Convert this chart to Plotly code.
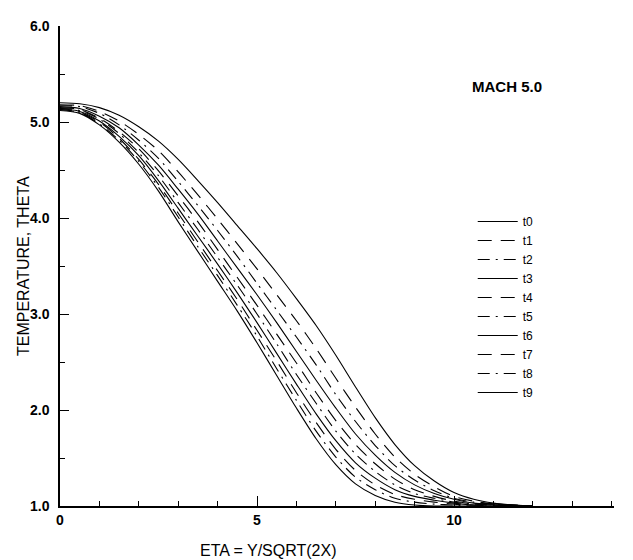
import plotly.graph_objects as go

eta = [0, 0.5, 1, 1.5, 2, 2.5, 3, 3.5, 4, 4.5, 5, 5.5, 6, 6.5, 7, 7.5,
       8, 8.5, 9, 9.5, 10, 10.5, 11, 11.5, 12]

t0 = [5.20, 5.19, 5.15, 5.07, 4.95, 4.80, 4.61, 4.39, 4.16, 3.92, 3.68, 3.43,
      3.16, 2.88, 2.57, 2.24, 1.92, 1.64, 1.42, 1.26, 1.14, 1.07, 1.03, 1.01, 1.00]
t1 = [5.18, 5.17, 5.11, 5.01, 4.87, 4.70, 4.48, 4.24, 3.99, 3.73, 3.47, 3.20,
      2.93, 2.64, 2.33, 2.03, 1.75, 1.51, 1.33, 1.20, 1.10, 1.05, 1.02, 1.01, 1.00]
t2 = [5.17, 5.16, 5.09, 4.97, 4.81, 4.62, 4.38, 4.13, 3.87, 3.60, 3.32, 3.04,
      2.76, 2.47, 2.16, 1.88, 1.63, 1.42, 1.27, 1.16, 1.08, 1.04, 1.02, 1.01, 1.00]
t3 = [5.16, 5.14, 5.06, 4.94, 4.76, 4.55, 4.30, 4.04, 3.76, 3.48, 3.20, 2.91,
      2.61, 2.31, 2.02, 1.75, 1.53, 1.35, 1.22, 1.13, 1.07, 1.03, 1.02, 1.01, 1.00]
t4 = [5.15, 5.13, 5.04, 4.90, 4.72, 4.49, 4.23, 3.96, 3.67, 3.38, 3.09, 2.79,
      2.49, 2.18, 1.89, 1.64, 1.44, 1.28, 1.17, 1.10, 1.05, 1.02, 1.01, 1.00, 1.00]
t5 = [5.14, 5.12, 5.03, 4.88, 4.68, 4.44, 4.16, 3.88, 3.59, 3.30, 3.00, 2.69,
      2.37, 2.07, 1.78, 1.54, 1.36, 1.22, 1.13, 1.08, 1.04, 1.02, 1.01, 1.00, 1.00]
t6 = [5.14, 5.11, 5.01, 4.85, 4.65, 4.39, 4.10, 3.81, 3.52, 3.22, 2.91, 2.59,
      2.27, 1.96, 1.68, 1.45, 1.29, 1.17, 1.10, 1.06, 1.03, 1.01, 1.01, 1.00, 1.00]
t7 = [5.13, 5.10, 5.00, 4.83, 4.61, 4.35, 4.05, 3.75, 3.45, 3.15, 2.83, 2.51,
      2.18, 1.87, 1.59, 1.37, 1.22, 1.12, 1.07, 1.04, 1.02, 1.01, 1.00, 1.00, 1.00]
t8 = [5.13, 5.10, 4.98, 4.81, 4.59, 4.32, 4.01, 3.70, 3.40, 3.09, 2.77, 2.43,
      2.10, 1.78, 1.51, 1.30, 1.17, 1.08, 1.04, 1.02, 1.01, 1.00, 1.00, 1.00, 1.00]
t9 = [5.12, 5.09, 4.97, 4.79, 4.56, 4.28, 3.96, 3.65, 3.34, 3.03, 2.70, 2.36,
      2.02, 1.70, 1.43, 1.23, 1.11, 1.04, 1.01, 1.00, 1.00, 1.00, 1.00, 1.00, 1.00]

series_names = ["t0", "t1", "t2", "t3", "t4", "t5", "t6", "t7", "t8", "t9"]
series_values = [t0, t1, t2, t3, t4, t5, t6, t7, t8, t9]

x_tick_vals = [0, 5, 10]
x_tick_text = ["0", "5", "10"]
y_tick_vals = [1, 2, 3, 4, 5, 6]
y_tick_text = ["1.0", "2.0", "3.0", "4.0", "5.0", "6.0"]

dashes = ["solid", "14px,9px", "12px,6px,2px,6px"]
FONT = "Liberation Sans, Arial, sans-serif"

fig = go.Figure()
for i, (name, vals) in enumerate(zip(series_names, series_values)):
    fig.add_trace(go.Scatter(
        x=eta, y=vals, name=name, mode="lines",
        line=dict(color="black", width=1.1, dash=dashes[i % 3], shape="spline", smoothing=0.8),
    ))

fig.update_layout(
    width=633, height=560,
    margin=dict(l=52, r=27, t=10, b=62),
    paper_bgcolor="white", plot_bgcolor="white",
    font=dict(family=FONT, color="black", size=14),
    showlegend=True,
    legend=dict(
        x=0.745, y=0.623, xanchor="left", yanchor="top",
        bgcolor="rgba(0,0,0,0)", borderwidth=0,
        font=dict(family=FONT, size=12, color="black"),
        tracegroupgap=0, itemwidth=40,
    ),
    xaxis=dict(
        range=[0, 14.06], showgrid=False, zeroline=False,
        showline=True, linecolor="black", linewidth=1.5,
        ticks="inside", ticklen=10, tickwidth=1.2, tickcolor="black",
        tickvals=x_tick_vals, ticktext=x_tick_text,
        tickfont=dict(family=FONT, size=14, color="black", weight="bold"),
        minor=dict(ticks="inside", ticklen=5, tickwidth=1.2, tickcolor="black", dtick=1, showgrid=False),
    ),
    yaxis=dict(
        range=[1, 6], showgrid=False, zeroline=False,
        showline=True, linecolor="black", linewidth=1.5,
        ticks="inside", ticklen=9, tickwidth=1.2, tickcolor="black",
        tickvals=y_tick_vals, ticktext=y_tick_text, ticklabelstandoff=6,
        tickfont=dict(family=FONT, size=14, color="black", weight="bold"),
        minor=dict(ticks="inside", ticklen=5, tickwidth=1.2, tickcolor="black", dtick=0.5, showgrid=False),
    ),
    annotations=[
        dict(text="MACH 5.0", x=0.74, y=0.873, xref="paper", yref="paper",
             xanchor="left", yanchor="middle", showarrow=False,
             font=dict(family=FONT, size=15, color="black", weight="bold")),
        dict(text="ETA = Y/SQRT(2X)", x=5.3, y=-0.092, xref="x", yref="paper",
             xanchor="center", yanchor="middle", showarrow=False,
             font=dict(family=FONT, size=16, color="black")),
        dict(text="TEMPERATURE, THETA", x=0, y=0.5, xref="paper", yref="paper",
             xanchor="center", yanchor="middle", xshift=-37, textangle=-90, showarrow=False,
             font=dict(family=FONT, size=16, color="black")),
    ],
)

fig.write_html("out.html")
